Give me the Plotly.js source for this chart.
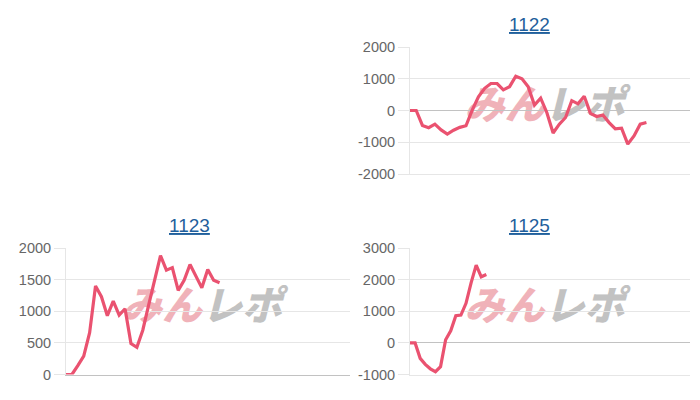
<!DOCTYPE html>
<html>
<head>
<meta charset="utf-8">
<script src="https://cdn.plot.ly/plotly-3.0.1.min.js"></script>
<style>html,body{margin:0;padding:0;background:#fff;}#chart{width:700px;height:400px;}</style>
</head>
<body>
<div id="chart"></div>
<script>
// ---- data ----
var titles = ['1122', '1123', '1125'];
var values1122 = [0, 0, -470, -540, -430, -610, -740, -620, -530, -480, 10, 430, 700, 850, 850, 650, 750, 1080, 1000, 750, 170, 390, -70, -710, -430, -220, 310, 210, 450, -90, -190, -140, -380, -580, -560, -1060, -800, -430, -380];
var values1123 = [0, 0, 140, 290, 660, 1400, 1230, 930, 1160, 940, 1040, 490, 430, 700, 1100, 1500, 1880, 1650, 1690, 1330, 1490, 1740, 1560, 1370, 1660, 1490, 1450];
var values1125 = [0, 0, -490, -680, -820, -910, -750, 100, 380, 860, 880, 1250, 1900, 2460, 2090, 2160];
var slots1122 = 46, slots1123 = 49, slots1125 = 56;   // number of x categories per chart
var yTicks1122 = [-2000, -1000, 0, 1000, 2000];
var yTicks1123 = [0, 500, 1000, 1500, 2000];
var yTicks1125 = [-1000, 0, 1000, 2000, 3000];
var watermarkA = 'みん', watermarkB = 'レポ';

function idx(arr) { return arr.map(function (_, i) { return i; }); }

var lineColor = '#ea5270';
var gridColor = '#e6e6e6';
var zeroColor = '#c2c2c2';
var tickFont = { family: 'Liberation Sans, Arial, sans-serif', size: 14.5, color: '#666666' };

var traces = [
  { x: idx(values1123), y: values1123, xaxis: 'x', yaxis: 'y' },
  { x: idx(values1122), y: values1122, xaxis: 'x2', yaxis: 'y2' },
  { x: idx(values1125), y: values1125, xaxis: 'x3', yaxis: 'y3' }
].map(function (t) {
  t.type = 'scatter'; t.mode = 'lines';
  t.line = { color: lineColor, width: 3.2 };
  t.hoverinfo = 'none'; t.showlegend = false;
  return t;
});

function xa(domain, n, lineCol) {
  return { domain: domain, range: [0, n - 1], showgrid: false, zeroline: false,
    showticklabels: false, ticks: '', showline: true, linecolor: lineCol, linewidth: 1, fixedrange: true };
}
function ya(domain, tickvals, anchor) {
  return { domain: domain, range: [tickvals[0], tickvals[tickvals.length - 1]], tickvals: tickvals,
    ticktext: tickvals.map(String), showgrid: true, gridcolor: gridColor, gridwidth: 1,
    zeroline: true, zerolinecolor: zeroColor, zerolinewidth: 1,
    showline: true, linecolor: gridColor, linewidth: 1,
    ticks: 'outside', ticklen: 11, tickcolor: gridColor, tickwidth: 1,
    tickfont: tickFont, anchor: anchor, fixedrange: true };
}

var xL = [66 / 700, 349.5 / 700], xR = [410 / 700, 690 / 700];
var yTop = [1 - 174 / 400, 1 - 47 / 400], yBot = [1 - 374.5 / 400, 1 - 248 / 400];

function titleAnn(text, x, y) {
  return { text: '<u>' + text + '</u>', xref: 'paper', yref: 'paper', x: x / 700, y: 1 - y / 400,
    xanchor: 'center', yanchor: 'middle', showarrow: false,
    font: { family: 'Liberation Sans, Arial, sans-serif', size: 19, color: '#1f5f9c' } };
}

function wm(xr, yr) {
  return { type: 'rect', xref: xr + ' domain', yref: yr + ' domain', x0: 0.08, x1: 0.88, y0: 0.32, y1: 0.72,
    layer: 'below', line: { width: 0 }, fillcolor: 'rgba(0,0,0,0)',
    label: { text: '<span style="color:#f0b2b9">' + watermarkA + '</span><span style="color:#c2c2c2">' + watermarkB + '</span>',
      textposition: 'middle center',
      font: { family: 'Noto Sans CJK JP, sans-serif', size: 40, color: '#c2c2c2', weight: 900, style: 'italic' } } };
}

var layout = {
  width: 700, height: 400, autosize: false,
  margin: { l: 0, r: 0, t: 0, b: 0 },
  paper_bgcolor: '#ffffff', plot_bgcolor: 'rgba(0,0,0,0)',
  xaxis: xa(xL, slots1123, zeroColor), yaxis: ya(yBot, yTicks1123, 'x'),
  xaxis2: xa(xR, slots1122, gridColor), yaxis2: ya(yTop, yTicks1122, 'x2'),
  xaxis3: xa(xR, slots1125, gridColor), yaxis3: ya(yBot, yTicks1125, 'x3'),
  annotations: [titleAnn(titles[0], 529, 24), titleAnn(titles[1], 189, 225), titleAnn(titles[2], 529, 225)],
  shapes: [wm('x2', 'y2'), wm('x', 'y'), wm('x3', 'y3')]
};
layout.xaxis2.anchor = 'y2'; layout.xaxis3.anchor = 'y3'; layout.xaxis.anchor = 'y';

Plotly.newPlot('chart', traces, layout, { displayModeBar: false, staticPlot: true });
</script>
</body>
</html>
